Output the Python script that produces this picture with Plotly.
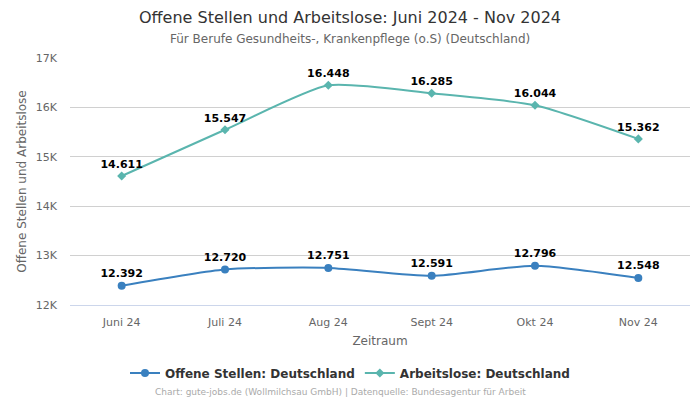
import plotly.graph_objects as go

months = ["Juni 24", "Juli 24", "Aug 24", "Sept 24", "Okt 24", "Nov 24"]
offene_stellen = [12392, 12720, 12751, 12591, 12796, 12548]
arbeitslose = [14611, 15547, 16448, 16285, 16044, 15362]
y_ticks = [12000, 13000, 14000, 15000, 16000, 17000]
y_tick_labels = ["12K", "13K", "14K", "15K", "16K", "17K"]

def de(v):
    return f"{v:,}".replace(",", ".")

FONT = "DejaVu Sans"
W, H = 700, 400
ML, MR, MT, MB = 70, 10, 58, 95
ph = H - MT - MB
pw = W - ML - MR

def ypix(p):
    return (H - MB - p) / ph

def xpix(p):
    return (p - ML) / pw

fig = go.Figure()
fig.add_trace(go.Scatter(
    x=months, y=offene_stellen, name="Offene Stellen: Deutschland",
    mode="lines+markers+text",
    line=dict(color="#3a80bf", width=2, shape="spline", smoothing=0.6),
    marker=dict(symbol="circle", size=8, color="#3a80bf"),
    text=[de(v) for v in offene_stellen], textposition="top center",
    textfont=dict(family=FONT, size=11, color="#000000", weight="bold"),
    cliponaxis=False,
))
fig.add_trace(go.Scatter(
    x=months, y=arbeitslose, name="Arbeitslose: Deutschland",
    mode="lines+markers+text",
    line=dict(color="#5ab5ae", width=2, shape="spline", smoothing=0.6),
    marker=dict(symbol="diamond", size=7, color="#5ab5ae"),
    text=[de(v) for v in arbeitslose], textposition="top center",
    textfont=dict(family=FONT, size=11, color="#000000", weight="bold"),
    cliponaxis=False,
))

fig.update_layout(
    width=W, height=H,
    margin=dict(l=ML, r=MR, t=MT, b=MB, autoexpand=False),
    paper_bgcolor="white", plot_bgcolor="white",
    font=dict(family=FONT, color="#666666", size=11),
    showlegend=True,
    legend=dict(orientation="h", x=xpix(350), xanchor="center", y=ypix(373), yanchor="middle",
                font=dict(family=FONT, size=12, color="#333333", weight="bold"),
                itemwidth=30),
    xaxis=dict(range=[-0.5, 5.5], showgrid=False, ticks="", automargin=False,
               showline=True, linecolor="#ccd6eb", linewidth=1,
               ticklabelstandoff=7,
               tickfont=dict(size=11, color="#666666"),
               title=dict(text="Zeitraum", font=dict(size=12, color="#666666"), standoff=8)),
    yaxis=dict(range=[12000, 17000], tickvals=y_ticks, ticktext=y_tick_labels, automargin=False,
               showgrid=True, gridcolor="#d0d0d0", gridwidth=1, zeroline=False,
               ticklabelstandoff=12,
               tickfont=dict(size=11, color="#666666"), ticks="", ticklen=0,
               title=dict(text="Offene Stellen und Arbeitslose", font=dict(size=12, color="#666666"), standoff=6)),
    annotations=[
        dict(text="Offene Stellen und Arbeitslose: Juni 2024 - Nov 2024", x=xpix(350), y=ypix(17),
             xref="paper", yref="paper", showarrow=False, font=dict(size=16, color="#333333"),
             xanchor="center", yanchor="middle"),
        dict(text="Für Berufe Gesundheits-, Krankenpflege (o.S) (Deutschland)", x=xpix(350), y=ypix(39),
             xref="paper", yref="paper", showarrow=False, font=dict(size=12, color="#666666"),
             xanchor="center", yanchor="middle"),
        dict(text="Chart: gute-jobs.de (Wollmilchsau GmbH) | Datenquelle: Bundesagentur für Arbeit",
             x=xpix(340), y=ypix(392), xref="paper", yref="paper", showarrow=False,
             font=dict(size=9, color="#aaaaaa"), xanchor="center", yanchor="middle"),
    ],
)
fig.write_html("out.html", config={"displayModeBar": False})

with open("out.html", "r", encoding="utf-8") as f:
    html = f.read()
html = html.replace("<head>", "<head><style>html,body{margin:0;padding:0;overflow:hidden;}</style>", 1)
with open("out.html", "w", encoding="utf-8") as f:
    f.write(html)
